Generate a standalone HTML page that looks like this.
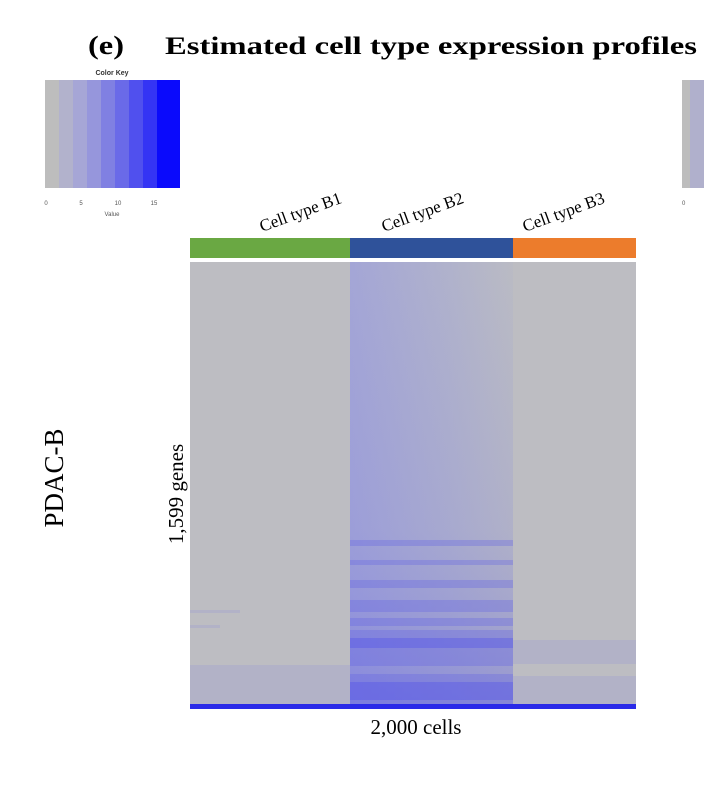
<!DOCTYPE html><html><head><style>body{margin:0;background:#fff;width:704px;height:793px;overflow:hidden;font-family:"Liberation Serif",serif}</style></head><body>
<svg width="704" height="793" xmlns="http://www.w3.org/2000/svg">
<defs>
<linearGradient id="b2h" x1="0" x2="1" y1="0" y2="0"><stop offset="0" stop-color="#a4a6d6"/><stop offset="0.6" stop-color="#b0b2cc"/><stop offset="1" stop-color="#babbc4"/></linearGradient>
<linearGradient id="b2v" x1="0" x2="0" y1="0" y2="1"><stop offset="0" stop-color="#5555ee" stop-opacity="0"/><stop offset="0.6" stop-color="#5555ee" stop-opacity="0.1"/><stop offset="1" stop-color="#4444ee" stop-opacity="0.3"/></linearGradient>
</defs>
<text x="88" y="54" font-size="26" font-weight="bold" textLength="36" lengthAdjust="spacingAndGlyphs">(e)</text>
<text x="165" y="54" font-size="25" font-weight="bold" textLength="532" lengthAdjust="spacingAndGlyphs">Estimated cell type expression profiles</text>
<text x="112" y="75" font-size="7" font-family="Liberation Sans" font-weight="bold" text-anchor="middle" fill="#333">Color Key</text>
<g>
<rect x="45" y="80" width="14" height="108" fill="#bdbdbd"/><rect x="59" y="80" width="14" height="108" fill="#b2b2cc"/><rect x="73" y="80" width="14" height="108" fill="#a6a6d6"/><rect x="87" y="80" width="14" height="108" fill="#9696dc"/><rect x="101" y="80" width="14" height="108" fill="#8080e2"/><rect x="115" y="80" width="14" height="108" fill="#6a6ae8"/><rect x="129" y="80" width="14" height="108" fill="#5050ee"/><rect x="143" y="80" width="14" height="108" fill="#3434f4"/><rect x="157" y="80" width="23" height="108" fill="#0a0afc"/>
</g>
<g font-family="Liberation Sans" font-size="6" fill="#555" text-anchor="middle"><text x="46" y="205">0</text><text x="81" y="205">5</text><text x="118" y="205">10</text><text x="154" y="205">15</text><text x="112" y="216">Value</text></g>
<rect x="682" y="80" width="22" height="108" fill="#b0b0cc"/><rect x="682" y="80" width="8" height="108" fill="#bdbdbd"/>
<text x="682" y="205" font-family="Liberation Sans" font-size="6" fill="#555">0</text>
<g font-size="17">
<text transform="translate(262,232) rotate(-20)">Cell type B1</text>
<text transform="translate(384,232) rotate(-20)">Cell type B2</text>
<text transform="translate(525,232) rotate(-20)">Cell type B3</text>
</g>
<rect x="190" y="238" width="160" height="20" fill="#6aa843"/>
<rect x="350" y="238" width="163" height="20" fill="#2f529a"/>
<rect x="513" y="238" width="123" height="20" fill="#ec7c2c"/>
<rect x="190" y="262" width="446" height="446" fill="#bdbdc2"/>
<rect x="350" y="262" width="163" height="446" fill="url(#b2h)"/>
<rect x="350" y="262" width="163" height="446" fill="url(#b2v)"/>
<g fill="#6060e6" opacity="0.3">
<rect x="350" y="540" width="163" height="6"/><rect x="350" y="560" width="163" height="5"/><rect x="350" y="580" width="163" height="8"/><rect x="350" y="600" width="163" height="12"/><rect x="350" y="618" width="163" height="8"/><rect x="350" y="630" width="163" height="36"/><rect x="350" y="674" width="163" height="30"/>
</g>
<g fill="#4646ee" opacity="0.3"><rect x="350" y="638" width="163" height="10"/><rect x="350" y="682" width="163" height="18"/></g>
<g fill="#8888dc" opacity="0.2"><rect x="513" y="640" width="123" height="24"/><rect x="513" y="676" width="123" height="28"/><rect x="190" y="665" width="160" height="40"/><rect x="190" y="610" width="50" height="3"/><rect x="190" y="625" width="30" height="3"/></g>
<rect x="190" y="704" width="446" height="5" fill="#2a2ae8"/>
<text x="416" y="734" font-size="21" text-anchor="middle">2,000 cells</text>
<text transform="translate(183,494) rotate(-90)" font-size="21" text-anchor="middle">1,599 genes</text>
<text transform="translate(63,478) rotate(-90)" font-size="27" text-anchor="middle">PDAC-B</text>
</svg></body></html>
